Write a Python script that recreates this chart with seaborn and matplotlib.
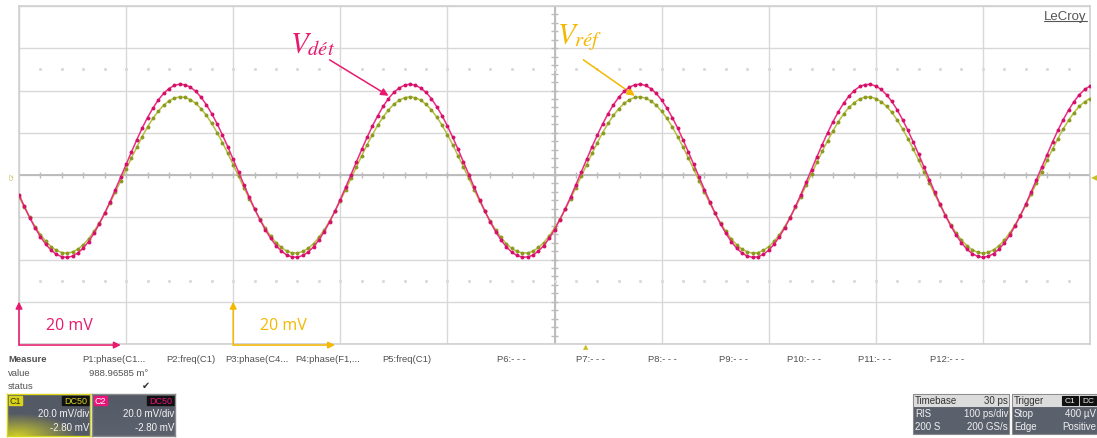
import numpy as np
import pandas as pd
import matplotlib
matplotlib.use('Agg')
import matplotlib.pyplot as plt
from matplotlib.patches import Rectangle
import seaborn as sns


W, H = 1097, 439

# sample times (ps), 5 ps per sample (200 GS/s), 10 div x 100 ps/div
time_ps = [5 * k for k in range(201)]

# C2 / detected signal (mV)
v_det = [
    -9.3, -14.9, -20.2, -25.0, -29.2, -32.8, -35.6, -37.6, -38.7, -39.0,
    -38.4, -36.9, -34.6, -31.5, -27.6, -23.1, -18.1, -12.7, -6.9, -1.0,
    5.0, 10.9, 16.7, 22.2, 27.2, 31.6, 35.5, 38.6, 40.9, 42.4,
    43.0, 42.7, 41.6, 39.6, 36.8, 33.2, 29.0, 24.2, 18.9, 13.3,
    7.4, 1.4, -4.6, -10.5, -16.0, -21.2, -25.9, -30.0, -33.4, -36.0,
    -37.9, -38.8, -38.9, -38.1, -36.5, -34.0, -30.7, -26.8, -22.2, -17.1,
    -11.6, -5.8, 0.2, 6.2, 12.1, 17.8, 23.2, 28.1, 32.5, 36.2,
    39.1, 41.2, 42.5, 43.0, 42.5, 41.2, 39.1, 36.2, 32.4, 28.1,
    23.2, 17.8, 12.1, 6.2, 0.2, -5.8, -11.6, -17.1, -22.2, -26.8,
    -30.7, -34.0, -36.5, -38.1, -38.9, -38.8, -37.9, -36.0, -33.4, -30.0,
    -25.9, -21.2, -16.0, -10.5, -4.6, 1.4, 7.4, 13.3, 18.9, 24.2,
    29.0, 33.2, 36.8, 39.6, 41.6, 42.7, 43.0, 42.4, 40.9, 38.6,
    35.5, 31.6, 27.2, 22.2, 16.7, 10.9, 5.0, -1.0, -6.9, -12.7,
    -18.1, -23.2, -27.6, -31.5, -34.6, -36.9, -38.4, -39.0, -38.7, -37.6,
    -35.6, -32.8, -29.2, -25.0, -20.2, -14.9, -9.3, -3.4, 2.6, 8.6,
    14.4, 20.0, 25.2, 29.9, 34.0, 37.4, 40.0, 41.9, 42.8, 42.9,
    42.1, 40.5, 38.0, 34.8, 30.8, 26.2, 21.1, 15.6, 9.8, 3.8,
    -2.2, -8.1, -13.8, -19.2, -24.1, -28.4, -32.1, -35.1, -37.2, -38.5,
    -39.0, -38.5, -37.2, -35.1, -32.2, -28.5, -24.1, -19.2, -13.8, -8.1,
    -2.2, 3.8, 9.7, 15.6, 21.1, 26.2, 30.7, 34.7, 38.0, 40.5,
    42.1,
]

# C1 / reference signal (mV)
v_ref = [
    -10.2, -15.3, -20.1, -24.4, -28.2, -31.4, -33.9, -35.7, -36.7, -37.0,
    -36.4, -35.1, -33.0, -30.2, -26.7, -22.7, -18.2, -13.2, -8.1, -2.7,
    2.7, 8.1, 13.2, 18.2, 22.7, 26.8, 30.2, 33.0, 35.1, 36.4,
    37.0, 36.7, 35.7, 33.9, 31.4, 28.2, 24.4, 20.1, 15.3, 10.2,
    4.9, -0.6, -6.0, -11.2, -16.3, -20.9, -25.2, -28.9, -32.0, -34.3,
    -36.0, -36.9, -36.9, -36.2, -34.7, -32.5, -29.5, -26.0, -21.8, -17.2,
    -12.2, -7.0, -1.6, 3.8, 9.1, 14.3, 19.1, 23.6, 27.5, 30.8,
    33.5, 35.4, 36.6, 37.0, 36.6, 35.4, 33.5, 30.8, 27.5, 23.6,
    19.1, 14.3, 9.1, 3.8, -1.6, -7.0, -12.2, -17.2, -21.8, -26.0,
    -29.5, -32.5, -34.7, -36.2, -36.9, -36.9, -36.0, -34.3, -32.0, -28.9,
    -25.2, -20.9, -16.3, -11.2, -6.0, -0.6, 4.9, 10.2, 15.3, 20.1,
    24.4, 28.2, 31.4, 33.9, 35.7, 36.7, 37.0, 36.4, 35.1, 33.0,
    30.2, 26.8, 22.7, 18.2, 13.3, 8.1, 2.7, -2.7, -8.1, -13.3,
    -18.2, -22.7, -26.7, -30.2, -33.0, -35.1, -36.4, -37.0, -36.7, -35.7,
    -33.9, -31.4, -28.2, -24.4, -20.1, -15.3, -10.2, -4.9, 0.5, 6.0,
    11.2, 16.2, 20.9, 25.2, 28.9, 32.0, 34.3, 36.0, 36.9, 36.9,
    36.2, 34.7, 32.5, 29.6, 26.0, 21.8, 17.2, 12.3, 7.0, 1.6,
    -3.8, -9.1, -14.3, -19.1, -23.5, -27.5, -30.8, -33.4, -35.4, -36.6,
    -37.0, -36.6, -35.4, -33.5, -30.8, -27.5, -23.6, -19.1, -14.3, -9.1,
    -3.8, 1.6, 7.0, 12.2, 17.2, 21.8, 25.9, 29.5, 32.5, 34.7,
    36.2,
]

param_labels = ['P1:phase(C1...', 'P2:freq(C1)', 'P3:phase(C4...', 'P4:phase(F1,...',
                'P5:freq(C1)', 'P6:- - -', 'P7:- - -', 'P8:- - -', 'P9:- - -',
                'P10:- - -', 'P11:- - -', 'P12:- - -']
param_x = [82, 166, 225, 295, 382, 497, 576, 648, 719, 787, 858, 930]
p1_value = '988.96585 m°'

PINK = '#ec2a82'
PINK_DOT = '#d4106a'
OLIVE = '#b3c040'
OLIVE_DOT = '#8c9a22'
YELLOW = '#f4b800'
TXT = '#505050'


def fx(x):
    return x / W


def fy(y):
    return 1 - y / H


def draw_screen(fig):
    ax = fig.add_axes([fx(19), fy(345), (1090 - 19) / W, (345 - 7) / H])
    ax.set_xlim(0, 1000)
    ax.set_ylim(-80, 80)
    ax.set_xticks(range(0, 1001, 100))
    ax.set_yticks(range(-80, 81, 20))
    ax.grid(True, color='#d8d8d8', lw=1)
    ax.tick_params(length=0, labelbottom=False, labelleft=False)
    for s in ax.spines.values():
        s.set_color('#cfcfcf')
        s.set_linewidth(1.2)

    # centre cross with minor ticks
    ax.axhline(0, color='#b8b8b8', lw=1.3, zorder=1)
    ax.axvline(500, color='#b8b8b8', lw=1.3, zorder=1)
    xt = np.arange(20, 1000, 20)
    ax.vlines(xt, -1.2, 1.2, color='#bcbcbc', lw=1, zorder=1)
    yt = np.arange(-76, 80, 4)
    ax.hlines(yt, 497, 503, color='#bcbcbc', lw=1, zorder=1)
    # dotted rows at +/- 2.5 div
    for yv in (50, -50):
        ax.plot(xt, np.full(len(xt), yv), ls='none', marker='s', ms=1.1,
                color='#dadada', zorder=1)

    df = pd.DataFrame({'t': time_ps, 'ref': v_ref, 'det': v_det})
    sns.lineplot(data=df, x='t', y='ref', ax=ax, color=OLIVE, lw=1.1,
                 marker='o', markersize=2.8, markeredgewidth=0,
                 markerfacecolor=OLIVE_DOT, zorder=3)
    sns.lineplot(data=df, x='t', y='det', ax=ax, color=PINK, lw=1.1,
                 marker='o', markersize=2.8, markeredgewidth=0,
                 markerfacecolor=PINK_DOT, zorder=4)
    ax.set_xlabel('')
    ax.set_ylabel('')
    ax.set_xlim(0, 1000)
    ax.set_ylim(-80, 80)

    # labels and arrows
    ax.text(274, 62.5, r'$V_{dét}$', color='#e8196e', fontsize=21,
            ha='center', va='center')
    ax.annotate('', xy=(345, 37.5), xytext=(290, 54.5),
                arrowprops=dict(arrowstyle='-|>', color='#e8196e', lw=1.1,
                                mutation_scale=11, shrinkA=0, shrinkB=0))
    ax.text(524, 65.5, r'$V_{réf}$', color=YELLOW, fontsize=21,
            ha='center', va='center')
    ax.annotate('', xy=(575, 37.5), xytext=(527, 54.5),
                arrowprops=dict(arrowstyle='-|>', color=YELLOW, lw=1.1,
                                mutation_scale=11, shrinkA=0, shrinkB=0))

    # 20 mV scale markers
    for x0, x1, col, tx in ((0, 95, '#e8196e', 47), (200, 295, YELLOW, 247)):
        ax.annotate('', xy=(x0, -60), xytext=(x0, -80.5),
                    arrowprops=dict(arrowstyle='-|>', color=col, lw=1.1,
                                    mutation_scale=10, shrinkA=0, shrinkB=0),
                    annotation_clip=False)
        ax.annotate('', xy=(x1, -80.5), xytext=(x0, -80.5),
                    arrowprops=dict(arrowstyle='-|>', color=col, lw=1.1,
                                    mutation_scale=10, shrinkA=0, shrinkB=0),
                    annotation_clip=False)
        ax.text(tx, -71, '20 mV', color=col, fontsize=11.5, family='Open Sans',
                ha='center', va='center')

    ax.text(0.997, 0.988, 'LeCroy', transform=ax.transAxes, ha='right', va='top',
            fontsize=9.5, color='#555555', family='Liberation Sans')
    ax.plot([0.957, 0.997], [0.955, 0.955], transform=ax.transAxes,
            color='#555555', lw=0.8)
    return ax


def draw_markers(fig):
    # trigger level (right) and trigger position (bottom), C2 tag (left)
    fig.text(fx(1094), fy(178), '◀', color='#c8c020', fontsize=6,
             ha='center', va='center', family='DejaVu Sans')
    fig.text(fx(586), fy(347), '▲', color='#c8c020', fontsize=5,
             ha='center', va='center', family='DejaVu Sans')
    fig.text(fx(12), fy(177), 'C2', color='#c0b040', fontsize=4,
             rotation=90, ha='center', va='center')


def box(fig, x0, y0, x1, y1, fc, ec=None, lw=0.8):
    r = Rectangle((fx(x0), fy(y1)), fx(x1) - fx(x0), fy(y0) - fy(y1),
                  transform=fig.transFigure, facecolor=fc,
                  edgecolor=ec if ec else fc, lw=lw)
    fig.add_artist(r)


def channel_box(fig, x0, label, col, glow):
    ax = fig.add_axes([fx(x0), fy(437), (83) / W, (42) / H])
    base = np.array([0.33, 0.35, 0.40])
    g = np.zeros((42, 83, 3))
    yy, xx = np.mgrid[0:42, 0:83]
    g[:] = base
    if glow:
        w = np.clip(1 - np.hypot((xx - 10) / 60, (41 - yy) / 22), 0, 1)[..., None]
        g = g * (1 - w) + np.array([0.80, 0.80, 0.15]) * w
    else:
        w = (yy / 41.0)[..., None] * 0.15
        g = g * (1 - w) + np.array([0.55, 0.57, 0.62]) * w
    ax.imshow(g, aspect='auto', extent=(0, 83, 42, 0))
    ax.set_xlim(0, 83)
    ax.set_ylim(42, 0)
    ax.set_xticks([])
    ax.set_yticks([])
    for s in ax.spines.values():
        s.set_color(col if glow else '#8a8a8a')
        s.set_linewidth(1)
    ax.add_patch(Rectangle((2, 2), 13, 9, color=col))
    ax.text(8.5, 6.5, label, fontsize=6.5, ha='center', va='center',
            color='#333300' if glow else '#ffffff', family='Liberation Sans')
    ax.add_patch(Rectangle((55, 2), 27, 9, color='#111111'))
    ax.text(68.5, 6.5, 'DC50', fontsize=6.5, ha='center', va='center',
            color=col, family='Liberation Sans')
    ax.text(82, 19, '20.0 mV/div', fontsize=7, ha='right', va='center',
            color='#f4f4f4', family='Liberation Sans')
    ax.text(82, 33, '-2.80 mV', fontsize=7, ha='right', va='center',
            color='#f4f4f4', family='Liberation Sans')


def info_box(fig, x0, x1, rows, head_tags=None):
    y0, y1 = 395, 435
    box(fig, x0, y0, x1, y1, '#5a606c', '#8a8a8a')
    box(fig, x0 + 1, y0 + 1, x1 - 1, y0 + 12, '#dcdcdc')
    kw = dict(fontsize=7, family='Liberation Sans', va='center')
    ys = [401.5, 414.5, 427.5]
    for i, (l, r) in enumerate(rows):
        c = '#333333' if i == 0 else '#f0f0f0'
        fig.text(fx(x0 + 2), fy(ys[i]), l, color=c, ha='left', **kw)
        if r:
            fig.text(fx(x1 - 1), fy(ys[i]), r, color=c, ha='right', **kw)
    if head_tags:
        for tx0, tx1, t in head_tags:
            box(fig, tx0, 397, tx1, 406, '#111111')
            fig.text(fx((tx0 + tx1) / 2), fy(401.5), t, color='#f0f0f0',
                     ha='center', fontsize=6, family='Liberation Sans', va='center')


def draw_panel(fig):
    kw = dict(fontsize=6.8, family='Liberation Sans', color=TXT, va='center')
    fig.text(fx(8), fy(360), 'Measure', fontweight='bold', **kw)
    fig.text(fx(8), fy(374), 'value', **kw)
    fig.text(fx(8), fy(387), 'status', **kw)
    for lab, x in zip(param_labels, param_x):
        fig.text(fx(x), fy(360), lab, **kw)
    fig.text(fx(148), fy(374), p1_value, ha='right', **kw)
    fig.text(fx(146), fy(386), '✔', ha='center', fontsize=7, color='#333333',
             va='center', family='DejaVu Sans')

    channel_box(fig, 7, 'C1', '#d8d41c', True)
    channel_box(fig, 92, 'C2', '#e8157a', False)

    info_box(fig, 913, 1009, [('Timebase', '30 ps'), ('RIS', '100 ps/div'),
                              ('200 S', '200 GS/s')])
    info_box(fig, 1012, 1097, [('Trigger', ''), ('Stop', '400 µV'),
                               ('Edge', 'Positive')],
             head_tags=[(1062, 1078, 'C1'), (1080, 1096, 'DC')])


if __name__ == '__main__':
    sns.set_style('white')
    plt.rcParams['font.family'] = ['Liberation Sans', 'DejaVu Sans']
    plt.rcParams['mathtext.fontset'] = 'stix'
    fig = plt.figure(figsize=(W / 100, H / 100), dpi=100)
    fig.patch.set_facecolor('white')
    draw_screen(fig)
    draw_markers(fig)
    draw_panel(fig)
    fig.savefig('out.png', dpi=100)
